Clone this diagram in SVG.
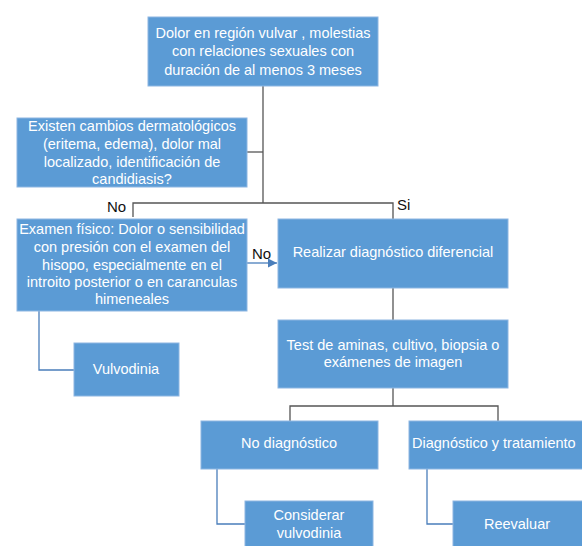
<svg xmlns="http://www.w3.org/2000/svg" width="582" height="546" viewBox="0 0 582 546">
<defs>
<style>
.box{fill:#5B9BD5;stroke:#8DB6E2;stroke-width:1}
.t{font-family:"Liberation Sans",Arial,sans-serif;font-size:14.5px;fill:#fff;text-anchor:middle;dominant-baseline:central}
.lbl{font-family:"Liberation Sans",Arial,sans-serif;font-size:15px;fill:#111;dominant-baseline:central}
.g{fill:none;stroke:#555;stroke-width:1.3}
.b{fill:none;stroke:#4A7EBB;stroke-width:1.3}
</style>
<marker id="arr" viewBox="0 0 10 10" refX="10" refY="5" markerWidth="9" markerHeight="9" markerUnits="userSpaceOnUse" orient="auto"><path d="M0,0 L10,5 L0,10 z" fill="#4A7EBB"/></marker>
</defs>
<rect width="582" height="546" fill="#fff"/>
<g id="connectors">
<path class="g" d="M263,86 V203"/>
<path class="g" d="M247,152 H263"/>
<path class="g" d="M133,217 V203 H393 V219"/>
<path class="b" d="M247,263 H277" marker-end="url(#arr)"/>
<path class="b" d="M39,311 V370 H74"/>
<path class="g" d="M393,288 V320"/>
<path class="g" d="M393,388 V406"/>
<path class="g" d="M290,421 V406 H498 V421"/>
<path class="b" d="M217,469 V524 H245"/>
<path class="b" d="M427,469 V524 H453"/>
<text class="lbl" x="107" y="206">No</text>
<text class="lbl" x="397" y="204">Si</text>
<text class="lbl" x="252" y="253">No</text>
</g>
<g id="n1"><rect class="box" x="148" y="17" width="230" height="69"/>
<text class="t" x="263" y="33">Dolor en región vulvar , molestias</text>
<text class="t" x="263" y="51">con relaciones sexuales con</text>
<text class="t" x="263" y="70">duración de al menos 3 meses</text></g>
<g id="n2"><rect class="box" x="17" y="118" width="230" height="69"/>
<text class="t" x="132" y="126">Existen cambios dermatológicos</text>
<text class="t" x="132" y="144">(eritema, edema), dolor mal</text>
<text class="t" x="132" y="162">localizado, identificación de</text>
<text class="t" x="132" y="179">candidiasis?</text></g>
<g id="n3"><rect class="box" x="17" y="219" width="230" height="92"/>
<text class="t" x="132" y="229">Examen físico: Dolor o sensibilidad</text>
<text class="t" x="132" y="247">con presión con el examen del</text>
<text class="t" x="132" y="265">hisopo, especialmente en el</text>
<text class="t" x="132" y="282">introito posterior o en caranculas</text>
<text class="t" x="132" y="299">himeneales</text></g>
<g id="n4"><rect class="box" x="278" y="219" width="230" height="69"/>
<text class="t" x="393" y="252">Realizar diagnóstico diferencial</text></g>
<g id="n5"><rect class="box" x="74" y="343" width="105" height="53"/>
<text class="t" x="126" y="369">Vulvodinia</text></g>
<g id="n6"><rect class="box" x="278" y="320" width="230" height="68"/>
<text class="t" x="393" y="345">Test de aminas, cultivo, biopsia o</text>
<text class="t" x="393" y="362">exámenes de imagen</text></g>
<g id="n7"><rect class="box" x="201" y="421" width="177" height="48"/>
<text class="t" x="289" y="443">No diagnóstico</text></g>
<g id="n8"><rect class="box" x="409" y="421" width="180" height="48"/>
<text class="t" x="412" y="443" style="text-anchor:start">Diagnóstico y tratamiento</text></g>
<g id="n9"><rect class="box" x="245" y="501" width="128" height="50"/>
<text class="t" x="309" y="515">Considerar</text>
<text class="t" x="309" y="533">vulvodinia</text></g>
<g id="n10"><rect class="box" x="453" y="501" width="135" height="50"/>
<text class="t" x="517" y="524">Reevaluar</text></g>
</svg>
